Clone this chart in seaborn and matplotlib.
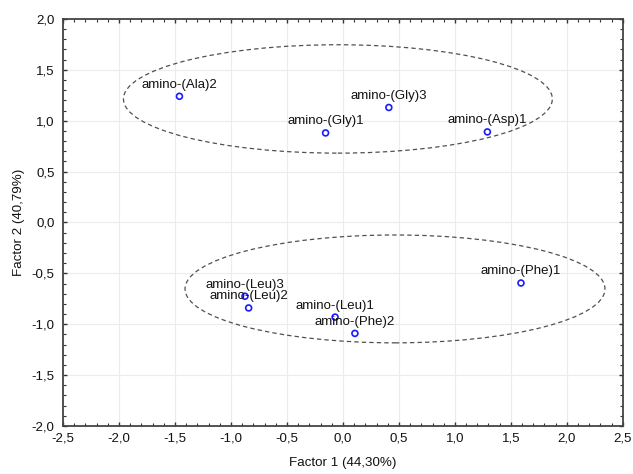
import numpy as np
import pandas as pd
import matplotlib
matplotlib.use("Agg")
import matplotlib.pyplot as plt
import seaborn as sns
from matplotlib.patches import Ellipse
from matplotlib.ticker import MultipleLocator, FuncFormatter

# dados
labels = ["amino-(Ala)2", "amino-(Gly)1", "amino-(Gly)3", "amino-(Asp)1",
          "amino-(Phe)1", "amino-(Leu)1", "amino-(Phe)2", "amino-(Leu)3",
          "amino-(Leu)2"]
factor1 = [-1.46, -0.155, 0.41, 1.29, 1.59, -0.07, 0.107, -0.875, -0.842]
factor2 = [1.24, 0.88, 1.13, 0.89, -0.595, -0.93, -1.09, -0.725, -0.84]

# elipses de agrupamento (centro x, centro y, largura, altura)
ellipse_cx = [-0.045, 0.465]
ellipse_cy = [1.214, -0.653]
ellipse_w = [3.83, 3.75]
ellipse_h = [1.065, 1.06]

df = pd.DataFrame({"Factor1": factor1, "Factor2": factor2, "label": labels})

sns.set_theme(style="white")
plt.rcParams["font.family"] = ["Liberation Sans", "DejaVu Sans"]

fig = plt.figure(figsize=(6.33, 4.74), dpi=100)
ax = fig.add_axes([0.0995, 0.1013, 0.8845, 0.8587])

ax.grid(True, which="major", color="#ececec", linewidth=0.8)
ax.set_axisbelow(True)

for cx, cy, w, h in zip(ellipse_cx, ellipse_cy, ellipse_w, ellipse_h):
    ax.add_patch(Ellipse((cx, cy), w, h, fill=False, edgecolor="#505050",
                         linestyle=(0, (3.5, 2.5)), linewidth=0.9))

sns.scatterplot(data=df, x="Factor1", y="Factor2", ax=ax, marker="o", s=18,
                facecolors="none", edgecolor="#1a1aff", linewidth=1.2,
                legend=False, zorder=3)

for _, r in df.iterrows():
    ax.annotate(r["label"], (r["Factor1"], r["Factor2"]), xytext=(0, 4),
                textcoords="offset points", ha="center", va="bottom",
                fontsize=9.5, color="#111111")

ax.set_xlim(-2.5, 2.5)
ax.set_ylim(-2.0, 2.0)
ax.xaxis.set_major_locator(MultipleLocator(0.5))
ax.yaxis.set_major_locator(MultipleLocator(0.5))
ax.xaxis.set_minor_locator(MultipleLocator(0.1))
ax.yaxis.set_minor_locator(MultipleLocator(0.1))
fmt = FuncFormatter(lambda v, p: f"{v:.1f}".replace(".", ",").replace("−", "-"))
ax.xaxis.set_major_formatter(fmt)
ax.yaxis.set_major_formatter(fmt)
ax.tick_params(which="both", direction="in", top=True, right=True,
               bottom=True, left=True, color="#333333", labelsize=9.5,
               labelcolor="#111111")
ax.tick_params(which="major", length=3, width=1)
ax.tick_params(which="minor", length=2, width=0.8)
ax.tick_params(axis="x", pad=5)
ax.tick_params(axis="y", pad=6)

for s in ax.spines.values():
    s.set_color("#444444")
    s.set_linewidth(1.3)

ax.set_xlabel("Factor 1 (44,30%)", fontsize=9.6, color="#111111", labelpad=9)
ax.set_ylabel("Factor 2 (40,79%)", fontsize=9.6, color="#111111", labelpad=5)

fig.savefig("out.png", dpi=100, facecolor="white")
